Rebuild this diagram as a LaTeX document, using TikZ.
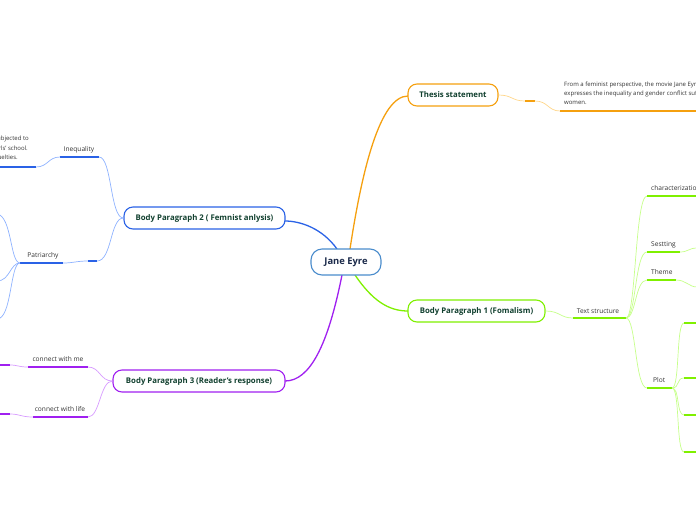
\documentclass[tikz,border=0pt]{standalone}
\usepackage{fontspec}
\setmainfont{Open Sans}
\definecolor{cOr}{HTML}{F5A00F}
\definecolor{cOrL}{HTML}{FFD68A}
\definecolor{cBl}{HTML}{2A62E6}
\definecolor{cBlL}{HTML}{8EB2FF}
\definecolor{cGr}{HTML}{7FF000}
\definecolor{cGrL}{HTML}{C6FF8A}
\definecolor{cPu}{HTML}{A020F0}
\definecolor{cPuL}{HTML}{D79BFF}
\definecolor{cTxt}{HTML}{11402F}
\definecolor{cNavy}{HTML}{1B2A4A}
\definecolor{cRoot}{HTML}{4A8CCC}
\definecolor{cGray}{HTML}{333333}
\tikzset{
  rootbox/.style={draw=cRoot, line width=1.1pt, fill=white, rounded corners=11pt, minimum width=70pt, minimum height=26pt, font=\fontsize{9.4}{11}\selectfont\bfseries, text=cNavy, inner sep=0pt},
  mainbox/.style={line width=1.1pt, fill=white, rounded corners=9pt, minimum height=22pt, font=\fontsize{7.8}{9}\selectfont\bfseries, text=cTxt, inner sep=0pt},
  sub/.style={font=\fontsize{6.6}{8}\selectfont, text=cGray, inner sep=0pt},
  note/.style={font=\fontsize{6}{9}\selectfont, text=cGray, inner sep=0pt, align=left},
  mainlink/.style={line width=1.3pt},
  thin/.style={line width=0.7pt},
  thick/.style={line width=1.6pt},
}
\begin{document}
\begin{tikzpicture}[x=1pt,y=-1pt]
\useasboundingbox (0,0) rectangle (696,520);
\clip (0,0) rectangle (696,520);

% ---- coordinates ----
\coordinate (rootTL) at (337,249);
\coordinate (rootT) at (350,249);
\coordinate (rootBL) at (342,275);
\coordinate (rootBR) at (355,275);

% ---- main links ----
\draw[mainlink, cOr] (rootT) .. controls (362,170) and (380,96) .. (408,96);
\draw[mainlink, cBl] (rootTL) .. controls (322,228) and (300,221) .. (285,221);
\draw[mainlink, cGr] (rootBR) .. controls (372,300) and (388,311) .. (408,311);
\draw[mainlink, cPu] (rootBL) .. controls (328,345) and (310,381) .. (285,381);

% ---- nodes ----
\node[rootbox] (root) at (346,262) {Jane Eyre};
\node[mainbox, draw=cOr, minimum width=90pt] (thesis) at (453,95) {Thesis statement};
\node[mainbox, draw=cGr, minimum width=137pt] (bp1) at (476.5,311) {Body Paragraph 1 (Fomalism)};
\node[mainbox, draw=cBl, minimum width=161pt] (bp2) at (204.5,218) {Body Paragraph 2 ( Femnist anlysis)};
\node[mainbox, draw=cPu, minimum width=172pt] (bp3) at (199,381) {Body Paragraph 3 (Reader's response)};

% ---- thesis branch ----
\coordinate (ts1) at (525,101);
\coordinate (ts2) at (535,101);
\coordinate (tn1) at (560,111);
\coordinate (tn2) at (697,111);
\draw[thin, cOrL] (thesis.east) .. controls (512,95) and (512,101) .. (ts1);
\draw[thick, cOr] (ts1) -- (ts2);
\draw[thin, cOrL] (ts2) .. controls (548,101) and (548,111) .. (tn1);
\draw[thick, cOr] (tn1) -- (tn2);
\node[note, anchor=north west] (thesistext) at (564,82) {From a feminist perspective, the movie Jane Eyre\\expresses the inequality and gender conflict suffered by\\women.};

% ---- body paragraph 1 ----
\coordinate (tsA) at (573,318);
\coordinate (tsB) at (626,318);
\draw[thin, cGrL] (bp1.east) .. controls (560,311) and (560,318) .. (tsA);
\draw[thick, cGr] (tsA) -- (tsB);
\node[sub, anchor=base] (textstruct) at (598,313) {Text structure};

\coordinate (chA) at (647,196);
\coordinate (chB) at (697,196);
\coordinate (seA) at (647,252);
\coordinate (seB) at (680,252);
\coordinate (seC) at (697,248);
\coordinate (thA) at (647,280);
\coordinate (thB) at (676,280);
\coordinate (thC) at (697,287);
\coordinate (plA) at (647,388);
\coordinate (plB) at (672,388);
\draw[thin, cGrL] (tsB) .. controls (636,318) and (635,196) .. (chA);
\draw[thin, cGrL] (tsB) .. controls (636,318) and (635,252) .. (seA);
\draw[thin, cGrL] (tsB) .. controls (636,318) and (635,280) .. (thA);
\draw[thin, cGrL] (tsB) .. controls (636,318) and (635,388) .. (plA);
\draw[thick, cGr] (chA) -- (chB);
\draw[thick, cGr] (seA) -- (seB);
\draw[thin, cGrL] (seB) .. controls (688,252) and (689,248) .. (seC);
\draw[thick, cGr] (thA) -- (thB);
\draw[thin, cGrL] (thB) .. controls (686,280) and (689,287) .. (thC);
\draw[thick, cGr] (plA) -- (plB);
\node[sub, anchor=base west] (charac) at (651,190.5) {characterization};
\node[sub, anchor=base west] (setting) at (651,246.5) {Sestting};
\node[sub, anchor=base west] (theme) at (651,274.5) {Theme};
\node[sub, anchor=base west] (plot) at (653,382.5) {Plot};

\foreach \y/\n in {323/a,378/b,415/c,452/d}{
  \coordinate (p\n) at (684,\y);
  \coordinate (q\n) at (697,\y);
  \draw[thin, cGrL] (plB) .. controls (680,388) and (676,\y) .. (p\n);
  \draw[thick, cGr] (p\n) -- (q\n);
}

% ---- body paragraph 2 ----
\coordinate (inA) at (60,157);
\coordinate (inB) at (99,157);
\coordinate (inC) at (36,167);
\coordinate (inD) at (-2,167);
\draw[thin, cBlL] (bp2.west) .. controls (110,218) and (112,157) .. (inB);
\draw[thick, cBl] (inA) -- (inB);
\draw[thin, cBlL] (inA) .. controls (48,157) and (48,167) .. (inC);
\draw[thick, cBl] (inC) -- (inD);
\node[sub, anchor=base] (ineq) at (79,151.5) {Inequality};
\node[note, anchor=north east] (ineqtext1) at (29,136) {was subjected to};
\node[note, anchor=north east] (ineqtext2) at (28,145.5) {the girls' school.};
\node[note, anchor=north east] (ineqtext3) at (18,155) {cruelties.};

\coordinate (paS1) at (97,261);
\coordinate (paS2) at (88,261);
\coordinate (paA) at (63,263);
\coordinate (paB) at (20,263);
\draw[thin, cBlL] (bp2.west) .. controls (110,218) and (112,261) .. (paS1);
\draw[thick, cBl] (paS1) -- (paS2);
\draw[thin, cBlL] (paS2) .. controls (76,261) and (74,263) .. (paA);
\draw[thick, cBl] (paA) -- (paB);
\node[sub, anchor=base] (patri) at (43,257.5) {Patriarchy};
\coordinate (pb1) at (-3,214);
\coordinate (pb2) at (-3,281);
\coordinate (pb3) at (-3,319);
\draw[thin, cBlL] (paB) .. controls (10,263) and (12,216) .. (pb1);
\draw[thin, cBlL] (paB) .. controls (10,263) and (10,281) .. (pb2);
\draw[thin, cBlL] (paB) .. controls (10,263) and (12,319) .. (pb3);

% ---- body paragraph 3 ----
\coordinate (cmA) at (28,367);
\coordinate (cmB) at (88,367);
\coordinate (cmC) at (10,365);
\coordinate (cmD) at (-2,365);
\draw[thin, cPuL] (bp3.west) .. controls (100,381) and (100,367) .. (cmB);
\draw[thick, cPu] (cmA) -- (cmB);
\draw[thin, cPuL] (cmA) .. controls (18,367) and (18,365) .. (cmC);
\draw[thick, cPu] (cmC) -- (cmD);
\node[sub, anchor=base] (cwme) at (58,361.5) {connect with me};

\coordinate (clA) at (33,417);
\coordinate (clB) at (88,417);
\coordinate (clC) at (10,414);
\coordinate (clD) at (-2,414);
\draw[thin, cPuL] (bp3.west) .. controls (100,381) and (100,417) .. (clB);
\draw[thick, cPu] (clA) -- (clB);
\draw[thin, cPuL] (clA) .. controls (21,417) and (20,414) .. (clC);
\draw[thick, cPu] (clC) -- (clD);
\node[sub, anchor=base] (cwlife) at (60,411) {connect with life};
\end{tikzpicture}
\end{document}
